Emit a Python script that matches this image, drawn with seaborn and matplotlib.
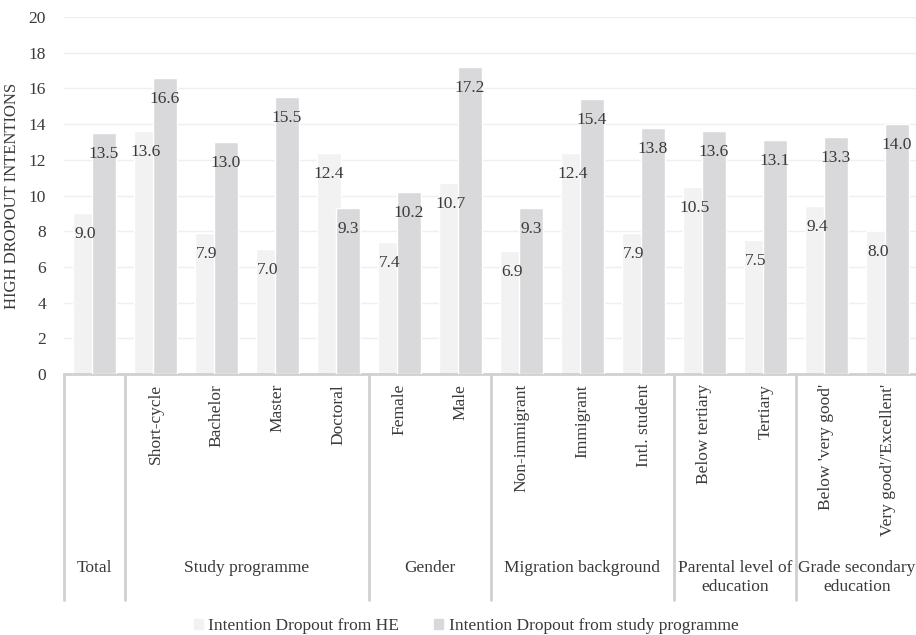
import numpy as np
import seaborn as sns
import matplotlib.pyplot as plt
from matplotlib.patches import Patch

# data
categories = ["Total", "Short-cycle", "Bachelor", "Master", "Doctoral",
              "Female", "Male", "Non-immigrant", "Immigrant", "Intl. student",
              "Below tertiary", "Tertiary", "Below 'very good'",
              "Very good'/'Excellent'"]
groups = ["Total", "Study programme", "Gender", "Migration background",
          "Parental level of\neducation", "Grade secondary\neducation"]
group_sizes = [1, 4, 2, 3, 2, 2]
dropout_he = [9.0, 13.6, 7.9, 7.0, 12.4, 7.4, 10.7, 6.9, 12.4, 7.9,
              10.5, 7.5, 9.4, 8.0]
dropout_prog = [13.5, 16.6, 13.0, 15.5, 9.3, 10.2, 17.2, 9.3, 15.4, 13.8,
                13.6, 13.1, 13.3, 14.0]
series = ["Intention Dropout from HE", "Intention Dropout from study programme"]

LIGHT = "#f2f2f2"
DARK = "#d9d9db"
LINE = "#d0d0d0"
TEXT = "#3a3a3a"
FS = 12.5

sns.set_style("white")
plt.rcParams["font.family"] = ["Liberation Serif", "DejaVu Serif"]
plt.rcParams["font.size"] = FS

fig = plt.figure(figsize=(9.16, 6.35), dpi=100)
ax = fig.add_axes([64 / 916, 261 / 635, 854 / 916, 357 / 635])

pos = np.arange(len(categories))
shift = 0.155
sns.barplot(x=pos - shift, y=dropout_he, native_scale=True, width=0.39,
            color=LIGHT, saturation=1, ax=ax, zorder=2)
sns.barplot(x=pos + shift, y=dropout_prog, native_scale=True, width=0.39,
            color=DARK, saturation=1, ax=ax, zorder=3)

# value labels just inside the top of each bar
off = -21 * 72 / 100
for x, v in zip(pos - shift, dropout_he):
    ax.annotate(f"{v:.1f}", (x, v), xytext=(0, off), textcoords="offset points",
                ha="center", va="center", color=TEXT, fontsize=FS, zorder=4)
for x, v in zip(pos + shift, dropout_prog):
    ax.annotate(f"{v:.1f}", (x, v), xytext=(0, off), textcoords="offset points",
                ha="center", va="center", color=TEXT, fontsize=FS, zorder=4)

ax.set_xlim(-0.5, len(categories) - 0.5)
ax.set_ylim(0, 20)
ax.set_yticks(range(0, 21, 2))
ax.yaxis.grid(True, color="#efefef", linewidth=1)
ax.set_axisbelow(True)
ax.set_xticks([])
ax.tick_params(axis="y", length=0, pad=13, labelsize=FS, labelcolor=TEXT)
ax.set_ylabel("HIGH DROPOUT INTENTIONS", fontsize=12, color=TEXT, labelpad=6)
for s in ["top", "right", "left"]:
    ax.spines[s].set_visible(False)
ax.spines["bottom"].set_color(LINE)
ax.spines["bottom"].set_linewidth(2)

# hierarchical category axis
trans = ax.get_xaxis_transform()
def ypx(py):
    return (374 - py) / 357

for x, c in zip(pos[1:], categories[1:]):
    ax.text(x, ypx(384), c, rotation=90, rotation_mode="anchor", ha="right",
            va="center", transform=trans, fontsize=FS, color=TEXT)

edges = np.concatenate([[0], np.cumsum(group_sizes)]) - 0.5
for e in edges:
    ax.plot([e, e], [0, ypx(600)], transform=trans, color=LINE,
            linewidth=2, clip_on=False)
for g, a, b in zip(groups, edges[:-1], edges[1:]):
    ax.text((a + b) / 2, ypx(560), g, ha="center", va="top", transform=trans,
            fontsize=FS, color=TEXT, linespacing=1.25)

handles = [Patch(color=LIGHT), Patch(color=DARK)]
fig.legend(handles, series, loc="center", bbox_to_anchor=(466 / 916, 1 - 626 / 635),
           ncol=2, frameon=False, handlelength=0.55, handleheight=0.55,
           handletextpad=0.3, columnspacing=2.0, fontsize=FS,
           labelcolor=TEXT)

fig.savefig("out.png", dpi=100)
